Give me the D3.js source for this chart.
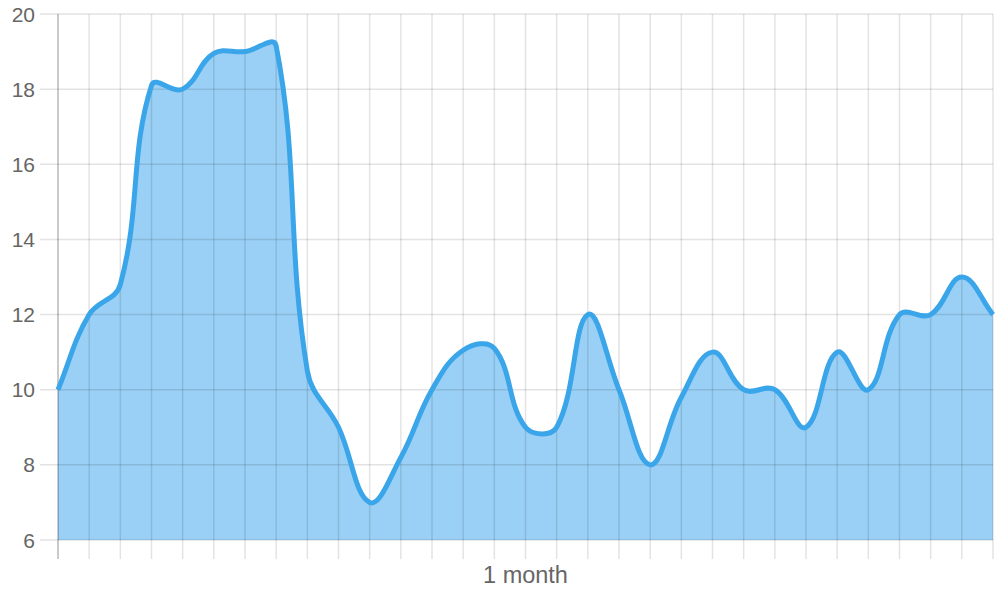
<!DOCTYPE html>
<html>
<head>
<meta charset="utf-8">
<script src="https://cdn.jsdelivr.net/npm/d3@7"></script>
<style>
  html, body { margin: 0; padding: 0; background: #fff; }
  svg { display: block; }
  text { font-family: "Liberation Sans", Arial, Helvetica, sans-serif; fill: #666; }
</style>
</head>
<body>
<svg id="chart" width="1000" height="600"></svg>
<script>
// ---- data ----
const dayIndex = d3.range(31);
const xLabels = dayIndex.map(i => i === 15 ? "1 month" : "");
const values = [10, 12, 12.8, 18.1, 18, 18.95, 19, 19.15, 10.5, 9, 7, 8.2, 10, 11.05, 11.1, 9, 9, 12, 10, 8, 9.8, 11, 10, 10, 9, 11, 10, 12, 12, 13, 12];
const yTicks = [6, 8, 10, 12, 14, 16, 18, 20];

(function () {
// ---- layout ----
const padL = 58, padR = 993, padT = 14, padB = 540;
const svg = d3.select("#chart");

const x = d3.scaleLinear().domain([0, dayIndex.length - 1]).range([padL, padR]);
const y = d3.scaleLinear().domain([6, 20]).range([padB, padT]);

const grid = "rgba(0,0,0,0.11)";

// Chart.js-style spline (tension 0.4)
const pts = values.map((v, i) => [x(i), y(v)]);
const t = 0.4;
const cps = pts.map((p, i) => {
  const prev = pts[i - 1] || p, next = pts[i + 1] || p;
  const d01 = Math.hypot(p[0] - prev[0], p[1] - prev[1]);
  const d12 = Math.hypot(next[0] - p[0], next[1] - p[1]);
  let s01 = d01 / (d01 + d12), s12 = d12 / (d01 + d12);
  if (!isFinite(s01)) s01 = 0; if (!isFinite(s12)) s12 = 0;
  const fa = t * s01, fb = t * s12;
  const cp1 = [p[0] - fa * (next[0] - prev[0]), p[1] - fa * (next[1] - prev[1])];
  const cp2 = [p[0] + fb * (next[0] - prev[0]), p[1] + fb * (next[1] - prev[1])];
  cp1[1] = Math.max(padT, Math.min(padB, cp1[1]));
  cp2[1] = Math.max(padT, Math.min(padB, cp2[1]));
  return { cp1, cp2 };
});
function buildLine(ctx) {
  ctx.moveTo(pts[0][0], pts[0][1]);
  for (let i = 1; i < pts.length; i++) {
    const a = cps[i - 1].cp2, b = cps[i].cp1;
    ctx.bezierCurveTo(a[0], a[1], b[0], b[1], pts[i][0], pts[i][1]);
  }
  return ctx;
}
const linePath = buildLine(d3.path()).toString();
const areaPath = buildLine(d3.path());
areaPath.lineTo(pts[pts.length - 1][0], y(6));
areaPath.lineTo(pts[0][0], y(6));
areaPath.closePath();

svg.append("path").attr("d", areaPath.toString())
  .attr("fill", "rgba(54,162,235,0.5)");

// horizontal grid lines + y tick marks
svg.append("g").selectAll("line").data(yTicks).join("line")
  .attr("x1", padL - 18).attr("x2", padR)
  .attr("y1", d => y(d)).attr("y2", d => y(d))
  .attr("stroke", grid).attr("stroke-width", 1.5);

// vertical grid lines + x tick marks
svg.append("g").selectAll("line").data(dayIndex).join("line")
  .attr("x1", d => x(d)).attr("x2", d => x(d))
  .attr("y1", padT).attr("y2", padB + 19)
  .attr("stroke", d => d === 0 ? "rgba(0,0,0,0.28)" : grid).attr("stroke-width", 1.5);

// y labels
svg.append("g").selectAll("text").data(yTicks).join("text")
  .attr("x", padL - 23).attr("y", d => y(d))
  .attr("text-anchor", "end").attr("dominant-baseline", "central")
  .style("font-size", "21px")
  .text(d => d);

// x labels
svg.append("g").selectAll("text").data(dayIndex.filter(i => xLabels[i] !== "")).join("text")
  .attr("x", d => x(d)).attr("y", 582.5)
  .attr("text-anchor", "middle")
  .style("font-size", "23.5px")
  .text(d => xLabels[d]);

svg.append("path").attr("d", linePath)
  .attr("fill", "none").attr("stroke", "rgb(59,165,234)")
  .attr("stroke-width", 5).attr("stroke-linejoin", "round").attr("stroke-linecap", "butt");
})();
</script>
</body>
</html>
